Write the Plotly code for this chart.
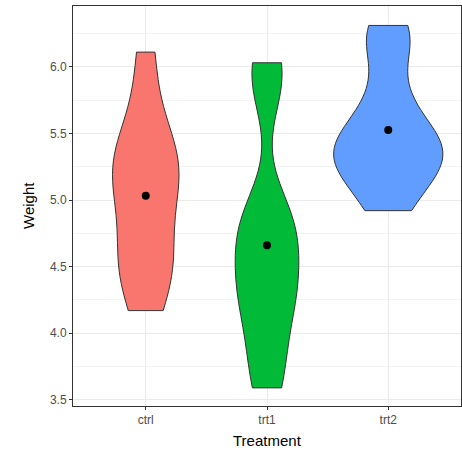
import numpy as np
import plotly.graph_objects as go

groups = ["ctrl", "trt1", "trt2"]
ctrl = [4.17, 5.58, 5.18, 6.11, 4.50, 4.61, 5.17, 4.53, 5.33, 5.14]
trt1 = [4.81, 4.17, 4.41, 3.59, 5.87, 3.83, 6.03, 4.89, 4.32, 4.69]
trt2 = [6.31, 5.12, 5.54, 5.50, 5.37, 5.29, 4.92, 6.15, 5.80, 5.26]
values = [ctrl, trt1, trt2]
colors = ["#F8766D", "#00BA38", "#619CFF"]
yticks = [3.5, 4.0, 4.5, 5.0, 5.5, 6.0]
FONT = "Liberation Sans, Arial, sans-serif"


def nrd0(x):
    x = np.asarray(x)
    sd = np.std(x, ddof=1)
    iqr = np.percentile(x, 75) - np.percentile(x, 25)
    return 0.9 * min(sd, iqr / 1.34) * len(x) ** (-0.2)


def max_density(x, bw):
    x = np.asarray(x)
    grid = np.linspace(x.min(), x.max(), 512)
    d = np.exp(-0.5 * ((grid[:, None] - x[None, :]) / bw) ** 2).sum(axis=1)
    return (d / (len(x) * bw * np.sqrt(2 * np.pi))).max()


bws = [nrd0(v) for v in values]
peaks = [max_density(v, b) for v, b in zip(values, bws)]
top = max(peaks)

fig = go.Figure()
for g, v, c, b, p in zip(groups, values, colors, bws, peaks):
    fig.add_trace(go.Violin(
        x=[g] * len(v), y=v, name=g,
        fillcolor=c, opacity=1,
        line=dict(color="#333333", width=1),
        points=False, spanmode="hard",
        bandwidth=b,
        scalegroup=g, scalemode="width",
        width=0.9 * p / top, meanline_visible=False, box_visible=False,
        hoverinfo="skip", showlegend=False,
    ))

fig.add_trace(go.Scatter(
    x=groups, y=[float(np.mean(v)) for v in values],
    mode="markers", marker=dict(color="black", size=8),
    showlegend=False, hoverinfo="skip",
))

axis_common = dict(
    showline=True, linecolor="#333333", linewidth=1, mirror=True,
    ticks="outside", ticklen=3, tickcolor="#333333",
    tickfont=dict(family=FONT, size=12, color="#4D4D4D"),
    gridcolor="#EBEBEB", gridwidth=1, zeroline=False, automargin=False,
)

fig.update_layout(
    width=462, height=452,
    margin=dict(l=73, r=1, t=6, b=46),
    paper_bgcolor="white", plot_bgcolor="white",
    violinmode="overlay",
    xaxis=dict(
        **axis_common,
        categoryorder="array", categoryarray=groups,
        range=[-0.6, 2.6],
    ),
    yaxis=dict(
        **axis_common,
        tickvals=yticks, ticktext=[f"{t:.1f}" for t in yticks],
        range=[3.454, 6.456],
        minor=dict(showgrid=True, gridcolor="#F3F3F3", gridwidth=1,
                   tickvals=[3.75, 4.25, 4.75, 5.25, 5.75, 6.25]),
    ),
    annotations=[
        dict(text="Treatment", xref="paper", yref="paper", x=0.5, y=0,
             yshift=-34, yanchor="middle", showarrow=False,
             font=dict(family=FONT, size=15, color="black")),
        dict(text="Weight", xref="paper", yref="paper", x=0, y=0.5,
             xshift=-45, xanchor="center", textangle=-90, showarrow=False,
             font=dict(family=FONT, size=15, color="black")),
    ],
)

fig.write_html("out.html", config={"displayModeBar": False},
               post_script="document.body.style.margin='0px';")
